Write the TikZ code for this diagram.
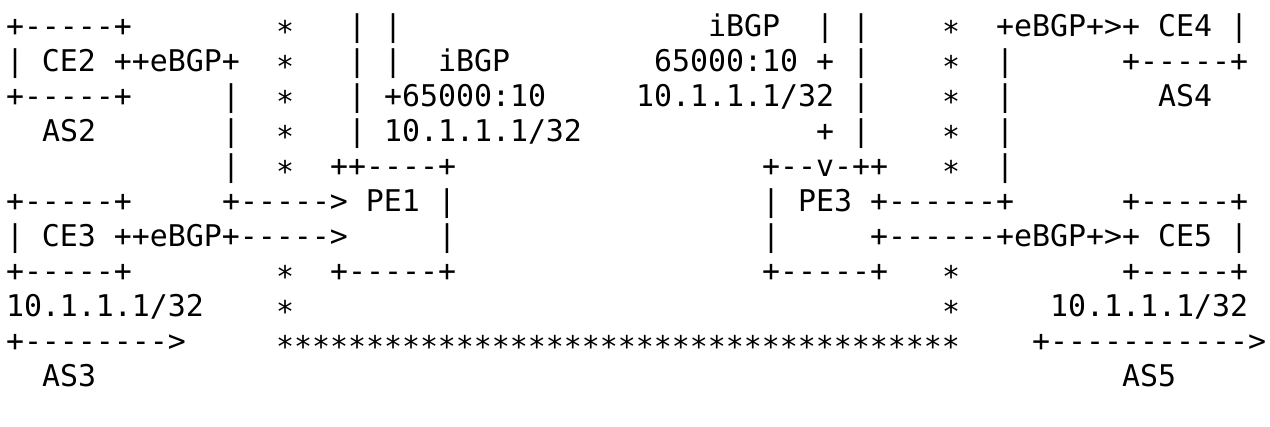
\documentclass[tikz,border=0pt]{standalone}
\usepackage{fontspec}
\setmonofont{DejaVu Sans Mono}
% one run of characters on the 18pt x 35pt character grid: name, column, row, text
\newcommand\asciirun[4]{\node[run] (#1) at ({6+18*#2},{37+35*#3}) {#4};}
% the same for the asterisk trail, set a little lower on the line
\newcommand\starrun[4]{\node[run, starline] (#1) at ({6+18*#2},{37+35*#3}) {#4};}
\begin{document}
\begin{tikzpicture}[x=1pt,y=-1pt,
  run/.style={anchor=base west, inner sep=0pt, outer sep=0pt,
    font=\ttfamily\fontsize{29.9}{35}\selectfont},
  starline/.style={yshift=-6pt}]
\useasboundingbox[fill=white] (0,0) rectangle (1270,427);
% row 0
\asciirun{ceTwoTop}{0}{0}{+-----+}
\starrun{starA0}{15}{0}{*}
\asciirun{ibgpL0}{19}{0}{| |}
\asciirun{ibgpRlabel}{39}{0}{iBGP}
\asciirun{ibgpR0}{45}{0}{| |}
\starrun{starB0}{52}{0}{*}
\asciirun{ceFour}{55}{0}{+eBGP+>+ CE4 |}
% row 1
\asciirun{ceTwo}{0}{1}{| CE2 ++eBGP+}
\starrun{starA1}{15}{1}{*}
\asciirun{ibgpL1}{19}{1}{| |}
\asciirun{ibgpLlabel}{24}{1}{iBGP}
\asciirun{commR}{36}{1}{65000:10 + |}
\starrun{starB1}{52}{1}{*}
\asciirun{ceFourLink1}{55}{1}{|}
\asciirun{ceFourBot}{62}{1}{+-----+}
% row 2
\asciirun{ceTwoBot}{0}{2}{+-----+}
\asciirun{ceTwoLink2}{12}{2}{|}
\starrun{starA2}{15}{2}{*}
\asciirun{commL}{19}{2}{| +65000:10}
\asciirun{prefR}{35}{2}{10.1.1.1/32 |}
\starrun{starB2}{52}{2}{*}
\asciirun{ceFourLink2}{55}{2}{|}
\asciirun{asFour}{64}{2}{AS4}
% row 3
\asciirun{asTwo}{2}{3}{AS2}
\asciirun{ceTwoLink3}{12}{3}{|}
\starrun{starA3}{15}{3}{*}
\asciirun{prefL}{19}{3}{| 10.1.1.1/32}
\asciirun{ibgpR3}{45}{3}{+ |}
\starrun{starB3}{52}{3}{*}
\asciirun{ceFourLink3}{55}{3}{|}
% row 4
\asciirun{ceTwoLink4}{12}{4}{|}
\starrun{starA4}{15}{4}{*}
\asciirun{peOneTop}{18}{4}{++----+}
\asciirun{peThreeTop}{42}{4}{+--v-++}
\starrun{starB4}{52}{4}{*}
\asciirun{ceFourLink4}{55}{4}{|}
% row 5
\asciirun{ceThreeTop}{0}{5}{+-----+}
\asciirun{peOne}{12}{5}{+-----> PE1 |}
\asciirun{peThree}{42}{5}{| PE3 +------+}
\asciirun{ceFiveTop}{62}{5}{+-----+}
% row 6
\asciirun{ceThree}{0}{6}{| CE3 ++eBGP+----->}
\asciirun{peOneSide}{24}{6}{|}
\asciirun{peThreeSide}{42}{6}{|}
\asciirun{ceFive}{48}{6}{+------+eBGP+>+ CE5 |}
% row 7
\asciirun{ceThreeBot}{0}{7}{+-----+}
\starrun{starA7}{15}{7}{*}
\asciirun{peOneBot}{18}{7}{+-----+}
\asciirun{peThreeBot}{42}{7}{+-----+}
\starrun{starB7}{52}{7}{*}
\asciirun{ceFiveBot}{62}{7}{+-----+}
% row 8
\asciirun{prefThree}{0}{8}{10.1.1.1/32}
\starrun{starA8}{15}{8}{*}
\starrun{starB8}{52}{8}{*}
\asciirun{prefFive}{58}{8}{10.1.1.1/32}
% row 9
\asciirun{advThree}{0}{9}{+-------->}
\starrun{starRow}{15}{9}{**************************************}
\asciirun{advFive}{57}{9}{+----------->}
% row 10
\asciirun{asThree}{2}{10}{AS3}
\asciirun{asFive}{62}{10}{AS5}
\end{tikzpicture}
\end{document}
